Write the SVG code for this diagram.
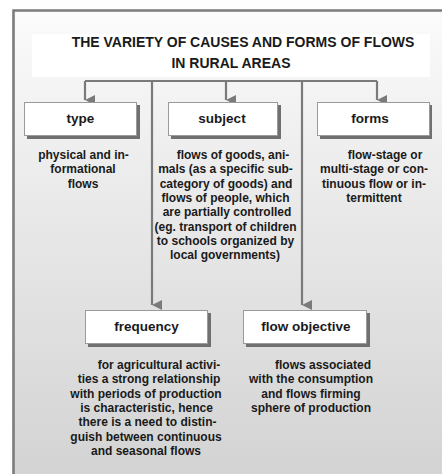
<svg xmlns="http://www.w3.org/2000/svg" width="442" height="474" viewBox="0 0 442 474">
  <defs>
    <linearGradient id="panelFill" x1="0" y1="0" x2="0" y2="1">
      <stop offset="0" stop-color="#fbfbfb"/>
      <stop offset="0.35" stop-color="#ececec"/>
      <stop offset="1" stop-color="#d3d3d3"/>
    </linearGradient>
    <marker id="arrowDown" viewBox="0 0 10 10" refX="5" refY="10" markerWidth="10" markerHeight="10" markerUnits="userSpaceOnUse" orient="auto-start-reverse">
      <path d="M0,0 L10,0 L5,10 Z" fill="#7a7a7a"/>
    </marker>
  </defs>
  <style>
    .title { font-family: "Liberation Sans", Arial, sans-serif; font-weight: bold; font-size: 14px; fill: #1a1a1a; text-anchor: middle; }
    .label { font-family: "Liberation Sans", Arial, sans-serif; font-weight: bold; font-size: 13.5px; fill: #1a1a1a; text-anchor: middle; }
    .desc { font-family: "Liberation Sans", Arial, sans-serif; font-weight: bold; font-size: 12px; fill: #1a1a1a; text-anchor: middle; }
    .box { fill: #ffffff; stroke: #9a9a9a; stroke-width: 1; }
    .shadow { fill: #707070; }
    .link { fill: none; stroke: #7a7a7a; stroke-width: 2.2; }
  </style>

  <!-- page and panel -->
  <rect x="0" y="0" width="442" height="474" fill="#ffffff"/>
  <rect x="13.5" y="10.5" width="430" height="465" fill="url(#panelFill)"/>
  <path d="M13.5,474 V10.5 H442" fill="none" stroke="#7c7c7c" stroke-width="2.6"/>

  <!-- heading -->
  <g id="heading">
    <rect x="32" y="34" width="398" height="43" fill="#ffffff"/>
    <text class="title" x="243" y="47">THE VARIETY OF CAUSES AND FORMS OF FLOWS</text>
    <text class="title" x="231" y="68">IN RURAL AREAS</text>
  </g>

  <!-- connectors -->
  <g id="connectors">
    <path class="link" d="M85,81 H377"/>
    <path class="link" d="M85,81 V100" marker-end="url(#arrowDown)"/>
    <path class="link" d="M226,81 V100" marker-end="url(#arrowDown)"/>
    <path class="link" d="M377,81 V100" marker-end="url(#arrowDown)"/>
    <path class="link" d="M152,81 V305" marker-end="url(#arrowDown)"/>
    <path class="link" d="M302,81 V305" marker-end="url(#arrowDown)"/>
  </g>

  <!-- type -->
  <g id="node-type">
    <rect class="shadow" x="27" y="105" width="113" height="34"/>
    <rect class="box" x="24.5" y="102.5" width="112" height="33"/>
    <text class="label" x="80.5" y="123">type</text>
    <text class="desc" x="83.5" y="159">physical and in-</text>
    <text class="desc" x="83" y="173.3">formational</text>
    <text class="desc" x="83" y="187.6">flows</text>
  </g>

  <!-- subject -->
  <g id="node-subject">
    <rect class="shadow" x="171" y="105" width="110" height="34"/>
    <rect class="box" x="168.5" y="102.5" width="109" height="33"/>
    <text class="label" x="222" y="123">subject</text>
    <text class="desc" x="233" y="159">flows of goods, ani-</text>
    <text class="desc" x="225.5" y="173.3">mals (as a specific sub-</text>
    <text class="desc" x="226" y="187.6">category of goods) and</text>
    <text class="desc" x="225.5" y="201.9">flows of people, which</text>
    <text class="desc" x="227" y="216.2">are partially controlled</text>
    <text class="desc" x="225.5" y="230.5">(eg. transport of children</text>
    <text class="desc" x="225.5" y="244.8">to schools organized by</text>
    <text class="desc" x="225" y="259.1">local governments)</text>
  </g>

  <!-- forms -->
  <g id="node-forms">
    <rect class="shadow" x="320" y="105" width="112" height="34"/>
    <rect class="box" x="317.5" y="102.5" width="112" height="33"/>
    <text class="label" x="370" y="123">forms</text>
    <text class="desc" x="385" y="159">flow-stage or</text>
    <text class="desc" x="374" y="173.3">multi-stage or con-</text>
    <text class="desc" x="374" y="187.6">tinuous flow or in-</text>
    <text class="desc" x="374" y="201.9">termittent</text>
  </g>

  <!-- frequency -->
  <g id="node-frequency">
    <rect class="shadow" x="88" y="313" width="123" height="34"/>
    <rect class="box" x="85.5" y="310.5" width="122" height="33"/>
    <text class="label" x="146.5" y="331">frequency</text>
    <text class="desc" x="159" y="369">for agricultural activi-</text>
    <text class="desc" x="149" y="383.3">ties a strong relationship</text>
    <text class="desc" x="146" y="397.6">with periods of production</text>
    <text class="desc" x="146.5" y="411.9">is characteristic, hence</text>
    <text class="desc" x="147.5" y="426.2">there is a need to distin-</text>
    <text class="desc" x="146" y="440.5">guish between continuous</text>
    <text class="desc" x="146" y="454.8">and seasonal flows</text>
  </g>

  <!-- flow objective -->
  <g id="node-objective">
    <rect class="shadow" x="246" y="313" width="124" height="34"/>
    <rect class="box" x="243.5" y="310.5" width="123" height="33"/>
    <text class="label" x="306" y="331">flow objective</text>
    <text class="desc" x="323" y="369">flows associated</text>
    <text class="desc" x="311" y="383.3">with the consumption</text>
    <text class="desc" x="311" y="397.6">and flows firming</text>
    <text class="desc" x="311" y="411.9">sphere of production</text>
  </g>
</svg>
